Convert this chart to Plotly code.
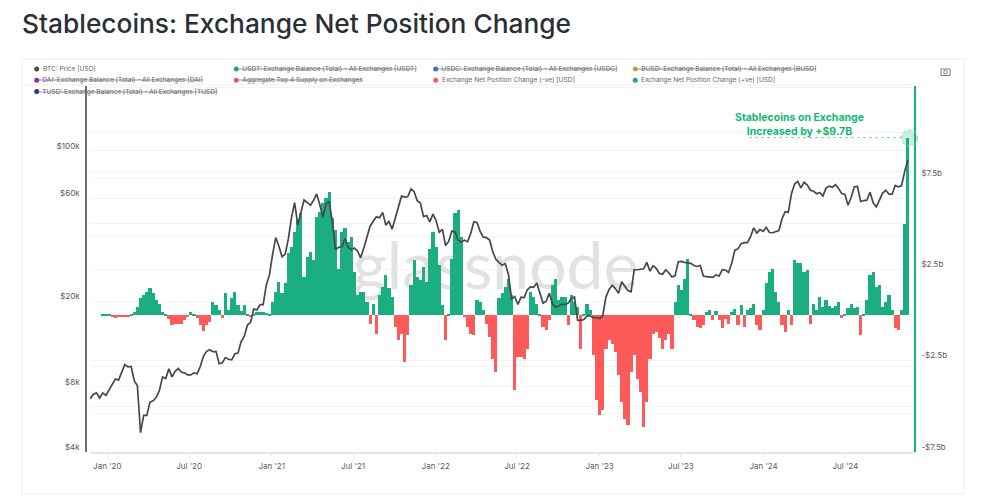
import pandas as pd
import plotly.graph_objects as go

W, H = 984, 500

# ---- data (weekly readings from the picture) ----
week_start = "2019-11-24"
net_change_b = [
    0,0,0,0,.02,.05,.07,
    -.09,-.13,-.11,-.09,-.09,-.09,
    .09,.18,.46,.92,1.10,1.28,1.47,1.19,.82,.64,.18,.05,
    -.22,-.55,-.51,-.46,-.46,-.27,-.05,.18,.09,
    -.18,-.55,-.88,-.55,-.40,
    .73,.55,.27,-.15,1.19,.27,.92,1.25,.55,.22,.55,.09,
    -.05,.04,.15,.18,.15,.11,.05,
    .73,1.28,1.83,1.19,
    1.74,3.39,3.75,4.58,5.22,5.59,2.11,3.2,3.48,3.02,5.4,5.68,6.14,6.41,6.78,5.31,4.67,2.56,4.58,4.76,4.03,4.3,
    2.38,1.10,1.28,1.28,.73,-.46,.64,-1.01,1.10,1.56,2.2,1.47,1.01,-.64,-1.37,-1.01,-2.56,-1.1,1.65,3.02,2.11,
    1.92,2.66,1.83,3.66,4.58,3.75,2.75,.55,-1.37,.09,3.11,5.59,5.77,4.3,-.09,-.64,-1.01,-1.1,.82,.73,.27,
    -.46,-1.19,-2.38,-3.11,.92,1.19,1.56,2.01,1.10,-4.12,-2.29,-2.29,-2.38,-1.83,1.28,1.01,
    .64,.09,-.64,-.82,-.27,1.65,2.01,.82,1.01,1.01,-.55,1.10,.73,.46,-1.83,.09,.64,.27,
    -2.2,-4.67,-5.49,-5.22,-1.83,-1.37,-1.56,-2.01,-3.3,-4.76,-5.68,-6.04,-3.11,-2.2,-3.48,-4.21,-6.14,-4.76,
    -2.38,-1.01,-.92,-1.28,-1.83,-1.37,-1.01,-1.83,
    .73,1.65,1.37,2.01,3.11,.09,
    -.27,-.64,-.73,-.55,.18,.27,-.27,.22,-.27,-.73,-.22,-.46,.18,.33,-.55,.55,-.64,.27,
    .37,.64,-.55,-.82,.27,1.74,2.38,2.56,1.28,.73,-.55,-.92,.27,-.55,
    3.02,2.84,2.84,2.38,2.47,-.46,.64,.27,1.01,.46,.82,.51,.37,.51,.73,
    -.15,.09,.40,.64,.37,.46,-1.10,.05,.82,2.2,2.38,1.56,1.65,.46,.73,1.10,.27,-.73,-.82,.27,5.0,
    9.7,
]
btc_price = [
    7050,7400,7500,7100,7500,7300,7750,8180,8700,8600,9350,10150,9900,9950,8550,8100,4900,5900,5900,6800,
    6900,7150,7700,8900,8750,9700,8900,9450,9750,9350,9300,9100,9100,9300,9200,9950,11100,11700,11900,11650,
    11700,10250,10350,10950,10750,10680,11400,11500,13000,13750,15500,15950,18400,18200,19300,19300,23800,26500,33000,39500,
    36000,32200,33100,38900,48700,57400,45200,51000,59000,57500,55800,58700,63000,56300,49000,56600,58200,46700,34700,35600,
    35800,39000,35600,34700,35300,34200,31800,35300,39900,44600,47000,49300,48800,51700,45100,47100,43200,48200,54700,61500,
    60900,61300,66500,64500,58600,57200,49400,50000,46700,50800,47300,41800,43100,36300,37900,42400,42000,38400,37700,38400,
    37800,41300,46800,46400,42200,39700,39500,38500,34000,31300,30300,29400,29900,26600,20500,21000,19300,20900,20800,22600,
    23300,23200,24300,21500,19600,20000,21800,19400,18800,19000,19400,19300,19600,20600,20900,16300,16300,16450,17100,17100,
    16750,16800,16600,17100,20900,22700,23700,22900,21800,24600,23500,22400,22100,28000,28000,28200,28300,30300,27600,29200,
    28400,26900,26700,28000,27100,25900,26300,30500,30600,30300,30200,30000,29300,29000,29300,26200,26000,25900,25800,26500,
    26200,28000,27900,27200,30000,34500,35000,37000,37400,37400,39900,43800,41400,43000,42200,44000,41700,41600,42000,42600,
    48300,52100,51700,63100,70000,72000,67200,71300,69400,65700,64900,63100,64000,61500,67000,68500,67700,69600,66700,63200,
    62700,55800,60800,68000,68200,58100,58700,58900,64200,57300,54800,59100,63600,65600,62800,62800,69000,67900,68700,80000,
    90500,
]

x_tick_vals = ["2020-01-01","2020-07-01","2021-01-01","2021-07-01","2022-01-01","2022-07-01",
               "2023-01-01","2023-07-01","2024-01-01","2024-07-01"]
x_tick_text = ["Jan '20","Jul '20","Jan '21","Jul '21","Jan '22","Jul '22","Jan '23","Jul '23","Jan '24","Jul '24"]
price_tick_vals = [4000,6000,8000,10000,20000,40000,60000,80000,100000]
price_tick_text = ["$4k","","$8k","","$20k","","$60k","","$100k"]
net_tick_vals = [-7.5,-5,-2.5,2.5,5,7.5,10,12.5]
net_tick_text = ["-$7.5b","","-$2.5b","$2.5b","","$7.5b","",""]

legend_labels = [
    "BTC: Price [USD]",
    "USDT: Exchange Balance (Total) - All Exchanges [USDT]",
    "USDC: Exchange Balance (Total) - All Exchanges [USDC]",
    "BUSD: Exchange Balance (Total) - All Exchanges [BUSD]",
    "DAI: Exchange Balance (Total) - All Exchanges [DAI]",
    "Aggregate Top 4 Supply on Exchanges",
    "Exchange Net Position Change (-ve) [USD]",
    "Exchange Net Position Change (+ve) [USD]",
    "TUSD: Exchange Balance (Total) - All Exchanges [TUSD]",
]
legend_colors = ["#4a4a4a","#1aae7f","#3f6fe0","#c9b01e","#a020c0","#ff5a5a","#ff5a5a","#1aae7f","#2a2f7f"]
legend_struck = [False,True,True,True,True,True,False,False,True]

GREEN, RED, LINE = "#1bae80", "#ff5a5a", "#484848"
ACCENT = "#12b76f"
TICK = "#5a5a5a"
FONT = "Inter"


def px(v):
    return v / W


def py(v):
    return 1 - v / H


dates = pd.date_range(week_start, periods=len(btc_price), freq="7D")
pos = [v if v > 0 else None for v in net_change_b]
neg = [v if v < 0 else None for v in net_change_b]
bar_w = 7 * 86400000

fig = go.Figure()
fig.add_trace(go.Scatter(x=["2022-05-14"], y=[0.49], mode="text", text=["glassnode"],
                         textfont=dict(family="Lato", size=66, color="#e2e2e2"),
                         textposition="middle center", showlegend=False, hoverinfo="skip",
                         xaxis="x", yaxis="y"))
fig.add_trace(go.Bar(x=dates, y=neg, name="Exchange Net Position Change (-ve) [USD]", width=bar_w,
                     marker=dict(color=RED, line=dict(width=0)), yaxis="y2", showlegend=False))
fig.add_trace(go.Bar(x=dates, y=pos, name="Exchange Net Position Change (+ve) [USD]", width=bar_w,
                     marker=dict(color=GREEN, line=dict(width=0)), yaxis="y2", showlegend=False))
fig.add_trace(go.Scatter(x=dates, y=btc_price, name="BTC: Price [USD]", mode="lines",
                         line=dict(color=LINE, width=1.7), yaxis="y3", showlegend=False))

ydom = [py(451.7), py(85.9)]
grid = "#f4f4f4"
shapes = [
    dict(type="rect", xref="paper", yref="paper", x0=px(22), x1=px(964), y0=py(494), y1=py(59),
         line=dict(color="#ececec", width=1), layer="below"),
    dict(type="line", xref="paper", yref="paper", x0=px(24), x1=px(911), y0=py(85), y1=py(85),
         line=dict(color="#efefef", width=1), layer="below"),
    # pointer at the latest bar
    dict(type="line", xref="paper", yref="paper", x0=px(749), x1=px(905), y0=py(137.6), y1=py(137.6),
         line=dict(color="#7fd9b3", width=1, dash="dot")),
    dict(type="circle", xref="paper", yref="paper", x0=px(901.5), x1=px(917.5), y0=py(146), y1=py(130),
         fillcolor="rgba(27,174,128,0.22)", line=dict(color="#7fd9b3", width=1, dash="dot")),
    # camera icon
    dict(type="rect", xref="paper", yref="paper", x0=px(941), x1=px(950), y0=py(75.5), y1=py(69),
         line=dict(color="#777", width=1)),
    dict(type="circle", xref="paper", yref="paper", x0=px(943.7), x1=px(947.3), y0=py(74), y1=py(70.4),
         line=dict(color="#777", width=1)),
]
annotations = [
    dict(text="<b>Stablecoins on Exchange<br>Increased by +$9.7B</b>", xref="paper", yref="paper",
         x=px(799), y=py(124.5), xanchor="center", yanchor="middle", showarrow=False, align="center",
         font=dict(family=FONT, size=10.5, color=ACCENT)),
]
for k, (label, color, struck) in enumerate(zip(legend_labels, legend_colors, legend_struck)):
    col, row = k % 4, k // 4
    cx, cy = 36.7 + 199.5 * col, 69 + 11.3 * row
    shapes.append(dict(type="circle", xref="paper", yref="paper", x0=px(cx - 2.5), x1=px(cx + 2.5),
                       y0=py(cy + 2.5), y1=py(cy - 2.5), fillcolor=color, line=dict(width=0)))
    text = f"<s>\u00a0\u00a0\u00a0\u00a0{label}</s>" if struck else label
    annotations.append(dict(text=text, xref="paper", yref="paper",
                            x=px(cx - 2.5 if struck else cx + 5), y=py(cy), xanchor="left", yanchor="middle",
                            showarrow=False, font=dict(family=FONT, size=6.55, color="#666"),
                            borderpad=0))

fig.update_layout(
    width=W, height=H, margin=dict(l=0, r=0, t=0, b=0, autoexpand=False),
    paper_bgcolor="white", plot_bgcolor="white", barmode="overlay", bargap=0, hovermode=False,
    showlegend=False,
    title=dict(text="Stablecoins: Exchange Net Position Change", x=px(22), xanchor="left",
               y=py(24), yanchor="middle",
               font=dict(family=FONT, size=26.3, weight=500, color="#2b2f36")),
    xaxis=dict(domain=[px(90), px(913)], type="date", range=["2019-11-23 12:00", "2024-11-28 14:00"],
               tickmode="array", tickvals=x_tick_vals, ticktext=x_tick_text,
               showgrid=False, zeroline=False, showline=True, linecolor="#e6e6e6", linewidth=1.5,
               ticks="outside", ticklen=4, tickcolor="#e6e6e6", ticklabelstandoff=2,
               tickfont=dict(family=FONT, size=8, color=TICK), anchor="y"),
    yaxis=dict(domain=ydom, range=[0, 1], visible=False, fixedrange=True),
    yaxis2=dict(overlaying="y", side="right", anchor="free", position=px(915),
                range=[-7.5, 12.58], tickmode="array", tickvals=net_tick_vals, ticktext=net_tick_text,
                showgrid=True, gridcolor=grid, gridwidth=1, zeroline=False,
                showline=True, linecolor=ACCENT, linewidth=1.6, ticks="", ticklabelshift=-5,
                ticklabelstandoff=4,
                tickfont=dict(family=FONT, size=8, color=TICK)),
    yaxis3=dict(overlaying="y", side="left", anchor="free", position=px(86), type="log",
                range=[3.60206, 5.30103], tickmode="array", tickvals=price_tick_vals, ticktext=price_tick_text,
                showgrid=True, gridcolor=grid, gridwidth=1, zeroline=False,
                showline=True, linecolor="#6f6f6f", linewidth=1.6, ticks="", ticklabelshift=-5,
                ticklabelstandoff=4,
                tickfont=dict(family=FONT, size=8, color=TICK)),
    shapes=shapes, annotations=annotations,
)
assert len(net_change_b) == len(btc_price), (len(net_change_b), len(btc_price))

fig.write_html("out.html", post_script="document.body.style.margin='0';",
               config=dict(displayModeBar=False))
